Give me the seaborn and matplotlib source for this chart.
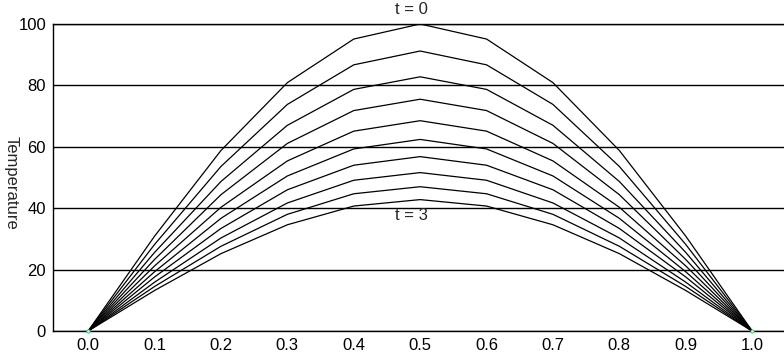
import numpy as np
import pandas as pd
import matplotlib
matplotlib.use("Agg")
import matplotlib.pyplot as plt
from matplotlib.ticker import MultipleLocator
import seaborn as sns

# Данные: профиль температуры вдоль стержня в разные моменты времени
x = [0.0, 0.1, 0.2, 0.3, 0.4, 0.5, 0.6, 0.7, 0.8, 0.9, 1.0]
times = ["0", "1/3", "2/3", "1", "4/3", "5/3", "2", "7/3", "8/3", "3"]

temp_t0 = [0, 30.9, 58.8, 80.9, 95.1, 100.0, 95.1, 80.9, 58.8, 30.9, 0]
temp_t1 = [0, 28.2, 53.6, 73.8, 86.7, 91.2, 86.7, 73.8, 53.6, 28.2, 0]
temp_t2 = [0, 25.6, 48.7, 67.0, 78.7, 82.8, 78.7, 67.0, 48.7, 25.6, 0]
temp_t3 = [0, 23.3, 44.4, 61.1, 71.8, 75.5, 71.8, 61.1, 44.4, 23.3, 0]
temp_t4 = [0, 21.2, 40.3, 55.4, 65.1, 68.5, 65.1, 55.4, 40.3, 21.2, 0]
temp_t5 = [0, 19.3, 36.7, 50.5, 59.3, 62.4, 59.3, 50.5, 36.7, 19.3, 0]
temp_t6 = [0, 17.6, 33.4, 46.0, 54.0, 56.8, 54.0, 46.0, 33.4, 17.6, 0]
temp_t7 = [0, 15.9, 30.3, 41.7, 49.1, 51.6, 49.1, 41.7, 30.3, 15.9, 0]
temp_t8 = [0, 14.5, 27.6, 38.0, 44.7, 47.0, 44.7, 38.0, 27.6, 14.5, 0]
temp_t9 = [0, 13.2, 25.2, 34.6, 40.7, 42.8, 40.7, 34.6, 25.2, 13.2, 0]

curves = [temp_t0, temp_t1, temp_t2, temp_t3, temp_t4,
          temp_t5, temp_t6, temp_t7, temp_t8, temp_t9]

# Настройка стиля
sns.set_style("white")
plt.rcParams['font.family'] = ['Liberation Sans', 'DejaVu Sans']
FS = 12

df = pd.concat(
    [pd.DataFrame({"x": x, "Temperature": c, "t": t}) for t, c in zip(times, curves)],
    ignore_index=True,
)

fig = plt.figure(figsize=(7.84, 3.55), dpi=100)
ax = fig.add_axes([0.0676, 0.0676, 0.9324, 0.8648])

sns.lineplot(data=df, x="x", y="Temperature", hue="t", palette=["black"] * len(times),
             linewidth=0.9, legend=False, ax=ax, zorder=3)

# маленькие точки на концах стержня
ax.scatter([x[0], x[-1]], [0, 0], s=6, color="#ffff00", edgecolors="#00c8ff",
           linewidths=0.6, zorder=4, clip_on=False)

ax.set_xlim(-0.053, 1.048)
ax.set_ylim(0, 100)
ax.set_yticks([0, 20, 40, 60, 80, 100])
ax.xaxis.set_major_locator(MultipleLocator(0.1))
ax.xaxis.set_minor_locator(MultipleLocator(0.05))
ax.xaxis.set_major_formatter(matplotlib.ticker.FormatStrFormatter("%.1f"))

ax.grid(axis="y", color="black", linewidth=1.0)
ax.set_axisbelow(True)
for side in ["left", "bottom", "top"]:
    ax.spines[side].set_visible(True)
    ax.spines[side].set_color("black")
    ax.spines[side].set_linewidth(1.0)
ax.spines["right"].set_visible(False)

ax.tick_params(axis="x", which="major", length=0, pad=5, labelsize=FS, colors="black")
ax.tick_params(axis="x", which="minor", length=2, width=1, direction="out", color="black")
ax.tick_params(axis="y", which="major", length=4, width=1, direction="out", pad=1,
               labelsize=FS, colors="black")

ax.set_xlabel("")
ax.set_ylabel("Temperature", fontsize=FS, rotation=270, va="center", ha="center")
ax.yaxis.set_label_coords(-0.0575, 0.482)

ax.text(0.487, 104.6, "t = 0", ha="center", va="center", fontsize=FS, clip_on=False)
ax.text(0.487, 37.5, "t = 3", ha="center", va="center", fontsize=FS, zorder=5)

fig.savefig("out.png", dpi=100)
